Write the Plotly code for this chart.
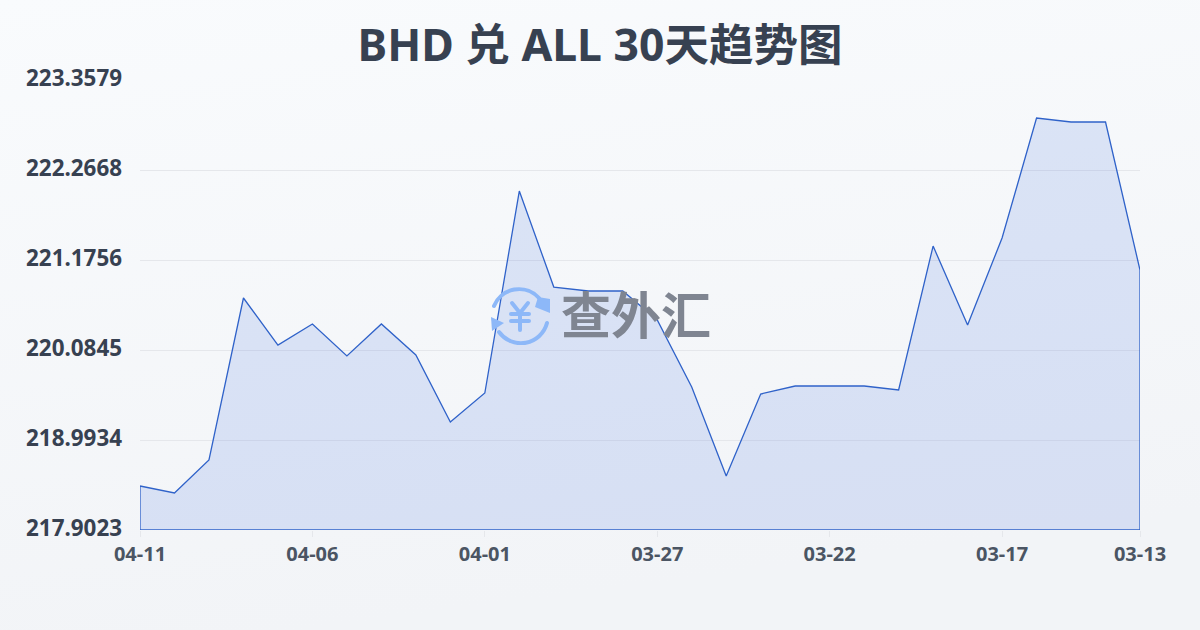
import base64
import plotly.graph_objects as go

dates = ['04-11', '04-10', '04-09', '04-08', '04-07', '04-06', '04-05', '04-04', '04-03', '04-02',
         '04-01', '03-31', '03-30', '03-29', '03-28', '03-27', '03-26', '03-25', '03-24', '03-23',
         '03-22', '03-21', '03-20', '03-19', '03-18', '03-17', '03-16', '03-15', '03-14', '03-13']
rates = [218.436, 218.351, 218.751, 220.715, 220.145, 220.400, 220.012, 220.400, 220.024, 219.212,
         219.563, 222.012, 220.848, 220.800, 220.800, 220.448, 219.636, 218.557, 219.551, 219.648,
         219.648, 219.648, 219.600, 221.345, 220.388, 221.442, 222.897, 222.849, 222.849, 221.054]
x_ticks = ['04-11', '04-06', '04-01', '03-27', '03-22', '03-17', '03-13']
y_ticks = [217.9023, 218.9934, 220.0845, 221.1756, 222.2668, 223.3579]

TEXT_FONT = 'Noto Sans, Noto Sans CJK SC'
LINE_COLOR = '#2f62c9'

# page background and the watermark icon are plain svg, plotly has no gradient on paper
background_svg = '''<svg xmlns="http://www.w3.org/2000/svg" width="1200" height="630">
<defs><linearGradient id="g" x1="0" y1="0" x2="0.25" y2="1">
<stop offset="0" stop-color="#f9fbfd"/><stop offset="1" stop-color="#f2f4f7"/>
</linearGradient></defs><rect width="1200" height="630" fill="url(#g)"/></svg>'''

icon_svg = '''<svg xmlns="http://www.w3.org/2000/svg" width="60" height="60" viewBox="0 0 60 60">
<g fill="none" stroke="#8db8f8" stroke-linecap="round" stroke-width="4">
<path d="M4 21 A27 27 0 0 1 49 13"/><path d="M57 38 A27 27 0 0 1 9 47"/>
<path d="M22 18 L30 28 L38 18 M30 28 L30 45 M21 29 L39 29 M21 36 L39 36"/>
</g><g fill="#8db8f8"><path d="M48 12 L60 14 L60 28 L45 22 Z"/><path d="M1 32 L14 38 L2 46 Z"/></g></svg>'''


def svg_uri(svg: str) -> str:
    return 'data:image/svg+xml;base64,' + base64.b64encode(svg.encode()).decode()


fig = go.Figure(go.Scatter(
    x=dates + [dates[-1], dates[0], dates[0]],
    y=rates + [y_ticks[0], y_ticks[0], rates[0]],
    mode='lines',
    fill='toself',
    fillcolor='rgba(59,110,220,0.15)',
    line=dict(color=LINE_COLOR, width=1.3),
    cliponaxis=False,
    hoverinfo='skip',
))

fig.update_layout(
    width=1200,
    height=630,
    margin=dict(l=140, r=60, t=80, b=100),
    paper_bgcolor='#f6f8fa',
    plot_bgcolor='rgba(0,0,0,0)',
    showlegend=False,
    title=dict(text='<b>BHD 兑 ALL 30天趋势图</b>', x=0.5, xref='container', xanchor='center',
               y=0.928, yref='container', yanchor='middle',
               font=dict(family=TEXT_FONT, size=44.5, color='#374151')),
    xaxis=dict(type='category', categoryorder='array', categoryarray=dates,
               range=[0, len(dates) - 1], tickvals=x_ticks, ticktext=[f'<b>{t}</b>' for t in x_ticks],
               tickfont=dict(family=TEXT_FONT, size=20, color='#4b5563'),
               showgrid=False, zeroline=False, showline=False,
               ticks='outside', ticklen=6, tickcolor='#e5e7eb', tickwidth=1),
    yaxis=dict(range=[y_ticks[0], y_ticks[-1]], tickvals=y_ticks,
               ticktext=[f'<b>{t:.4f}</b>' for t in y_ticks],
               tickfont=dict(family=TEXT_FONT, size=22.4, color='#374151'),
               ticklabelstandoff=17, ticklabelshift=-2, showgrid=True, gridcolor='#e5e7eb', gridwidth=1,
               zeroline=False, showline=False, ticks=''),
    images=[
        dict(source=svg_uri(background_svg), xref='paper', yref='paper', x=-140 / 1000, y=1 + 80 / 450,
             sizex=1200 / 1000, sizey=630 / 450, xanchor='left', yanchor='top', sizing='stretch', layer='below'),
        dict(source=svg_uri(icon_svg), xref='paper', yref='paper', x=350 / 1000, y=1 - 205 / 450,
             sizex=60 / 1000, sizey=60 / 450, xanchor='left', yanchor='top', sizing='stretch', layer='above'),
    ],
    annotations=[dict(text='<b>查外汇</b>', xref='paper', yref='paper', x=495.5 / 1000, y=1 - 232 / 450,
                      xanchor='center', yanchor='middle', showarrow=False,
                      font=dict(family='Noto Sans CJK SC', size=50, color='#7f8591'))],
)

# drop the default body margin so the figure fills the window
fig.write_html('out.html', config={'displayModeBar': False}, post_script="document.body.style.margin = '0';")
